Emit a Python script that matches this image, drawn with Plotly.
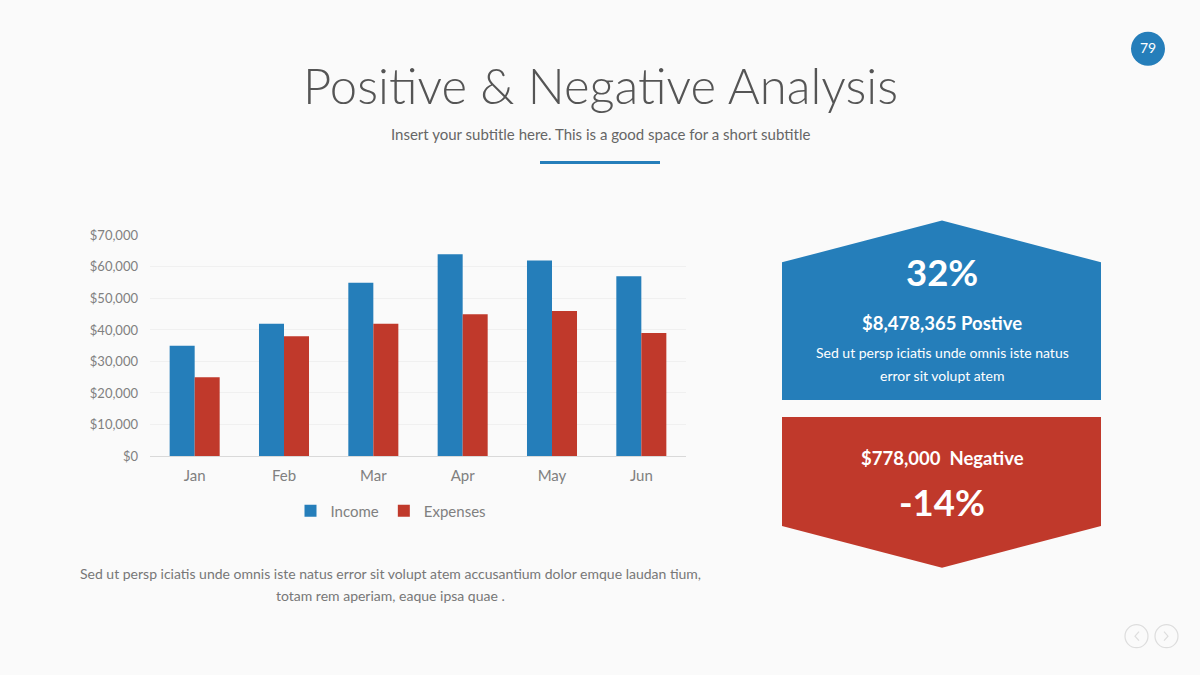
import plotly.graph_objects as go

months = ["Jan", "Feb", "Mar", "Apr", "May", "Jun"]
income = [35000, 42000, 55000, 64000, 62000, 57000]
expenses = [25000, 38000, 42000, 45000, 46000, 39000]
y_ticks = [0, 10000, 20000, 30000, 40000, 50000, 60000, 70000]
y_tick_labels = ["$" + f"{v:,}" for v in y_ticks]

BLUE = "#257EBA"
RED = "#C0392B"
BG = "#FAFAFA"
W, H = 1200, 675
FONT = "Lato"
# observed vertical mapping of the viewer (screen_y = OFF + K * layout_y)
K, OFF = 0.978, 7.2

fig = go.Figure()
fig.add_trace(go.Bar(x=months, y=income, name="Income", marker=dict(color=BLUE, line=dict(width=0))))
fig.add_trace(go.Bar(x=months, y=expenses, name="Expenses", marker=dict(color=RED, line=dict(width=0))))

def X(v):
    return v / W

def Y(v):
    return 1 - ((v - OFF) / K) / H

fig.update_layout(
    width=W, height=H, autosize=False,
    margin=dict(l=0, r=0, t=0, b=0),
    paper_bgcolor=BG, plot_bgcolor=BG,
    font=dict(family=FONT, color="#777777"),
    barmode="group", bargap=0.44, bargroupgap=0,
    xaxis=dict(domain=[X(150), X(686)], showgrid=False, showline=True, linecolor="#d9d9d9",
               linewidth=1, ticks="", tickfont=dict(size=15, color="#808080"),
               ticklabelstandoff=6),
    yaxis=dict(domain=[Y(456), Y(235)], range=[0, 70000], tickmode="array", tickvals=y_ticks,
               ticktext=y_tick_labels, showgrid=True, gridcolor="#F0F0F0",
               zeroline=False, showline=False, tickfont=dict(size=13, color="#808080"),
               ticklabelstandoff=11),
    legend=dict(orientation="h", x=X(391), xanchor="center", y=Y(511), yanchor="middle",
                font=dict(size=15, color="#808080"), bgcolor="rgba(0,0,0,0)", itemwidth=30,
                traceorder="normal"),
    showlegend=True,
)

def path(points, close=True):
    s = " ".join(("M" if i == 0 else "L") + f" {X(x):.5f},{Y(y):.5f}" for i, (x, y) in enumerate(points))
    return s + (" Z" if close else "")

shapes = [
    dict(type="line", x0=X(540), x1=X(660), y0=Y(162), y1=Y(162), line=dict(color=BLUE, width=3)),
    dict(type="circle", x0=X(1131), x1=X(1165), y0=Y(31), y1=Y(65), fillcolor=BLUE, line=dict(width=0)),
    dict(type="circle", x0=X(1125), x1=X(1148), y0=Y(625), y1=Y(648), line=dict(color="#DDDDDD", width=1.2)),
    dict(type="circle", x0=X(1155), x1=X(1178), y0=Y(625), y1=Y(648), line=dict(color="#DDDDDD", width=1.2)),
    dict(type="path", path=path([(1139, 632), (1135, 636.5), (1139, 641)], close=False),
         line=dict(color="#DDDDDD", width=1.2)),
    dict(type="path", path=path([(1164, 632), (1168, 636.5), (1164, 641)], close=False),
         line=dict(color="#DDDDDD", width=1.2)),
    dict(type="path", path=path([(942, 220), (1101, 262), (1101, 400), (782, 400), (782, 262)]),
         fillcolor=BLUE, line=dict(width=0)),
    dict(type="path", path=path([(782, 417), (1101, 417), (1101, 526), (942, 568), (782, 526)]),
         fillcolor=RED, line=dict(width=0)),
]
for s in shapes:
    s.update(xref="paper", yref="paper", layer="below")
    fig.add_shape(**s)

def ann(x, y, text, size, color, weight=400):
    fig.add_annotation(x=X(x), y=Y(y), xref="paper", yref="paper", text=text, showarrow=False,
                       xanchor="center", yanchor="middle",
                       font=dict(family=FONT, size=size, color=color, weight=weight))

ann(600, 84.5, "Positive &amp; Negative Analysis", 49, "#555555", weight=300)
ann(600, 133.5, "Insert your subtitle here. This is a good space for a short subtitle", 15, "#666666")
ann(1148, 47, "79", 14, "#FFFFFF")
ann(942, 272, "32%", 36.5, "#FFFFFF", weight=700)
ann(942, 323, "$8,478,365 Postive", 18.5, "#FFFFFF", weight=700)
ann(942, 352.5, "Sed ut persp iciatis unde omnis iste natus", 14, "#FFFFFF")
ann(942, 375.5, "error sit volupt atem", 14, "#FFFFFF")
ann(942, 458, "$778,000  Negative", 18.5, "#FFFFFF", weight=700)
ann(942, 502, "-14%", 36.5, "#FFFFFF", weight=700)
ann(391, 574, "Sed ut persp iciatis unde omnis iste natus error sit volupt atem accusantium dolor emque laudan tium,", 14, "#777777")
ann(391, 596, "totam rem aperiam, eaque ipsa quae .", 14, "#777777")

fig.write_html(
    "out.html",
    config={"displayModeBar": False, "responsive": False},
    post_script=(
        "document.documentElement.style.margin='0';"
        "document.documentElement.style.padding='0';"
        "document.documentElement.style.overflow='hidden';"
        "document.body.style.margin='0';"
        "document.body.style.padding='0';"
        "document.body.style.overflow='hidden';"
        "document.body.style.background='#FAFAFA';"
    ),
)
